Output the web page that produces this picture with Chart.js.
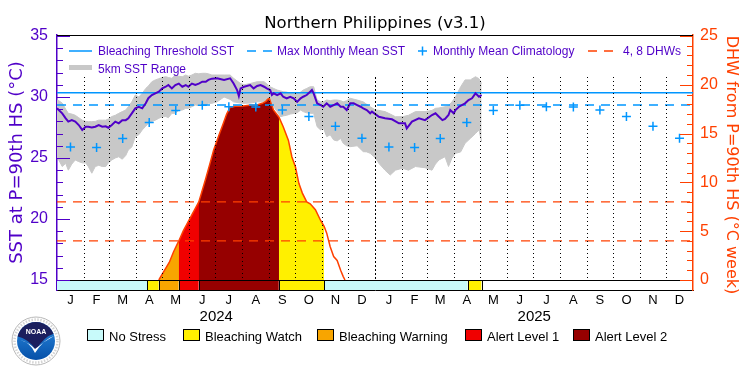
<!DOCTYPE html>
<html>
<head>
<meta charset="utf-8">
<script src="https://cdn.jsdelivr.net/npm/chart.js@4.4.1/dist/chart.umd.min.js"></script>
<style>
  body { margin: 0; background: #fff; }
  #chart { display: block; }
</style>
</head>
<body>
<canvas id="chart" width="750" height="375"></canvas>
<script>
// 월 라벨과 월 시작일 (2024-01-01 기준 일수)
const monthLetters = ['J','F','M','A','M','J','J','A','S','O','N','D','J','F','M','A','M','J','J','A','S','O','N','D'];
const monthStarts = [0,31,60,91,121,152,182,213,244,274,305,335,366,397,425,456,486,517,547,578,609,639,670,700,731];
const yearLabels = ['2024', '2025'];

// 월평균 기후값 (1월~12월)
const climatology = [25.9, 25.85, 26.6, 27.9, 28.9, 29.32, 29.2, 29.18, 28.93, 28.4, 27.6, 26.62];

// SST (P=90th HS)
const sstDays = [0,2,6,10,13,17,21,25,29,33, 36,40,44,48,52,56,59,63,67,71, 75,79,82,86,90,94,98,102,105,109,
  113,117,121,125,128,132,136,140,144,148, 151,155,159,163,167,171,174,178,184,192, 199,203,207,209,211,215,222,226,230,234,
  238,241,245,247,249,253,257,260,264,268, 272,276,280,283,287,291,293,295,299,303, 306,310,314,318,322,326,329,333,337,341,
  345,349,352,356,360,362,370,377,385,393, 400,402,408,416,423,431,435,439,443,446, 450,452,456,458,462,469,473,477,481,485, 488];
const sstValues = [29.07,28.93,28.66,28.25,27.98,28.1,27.98,27.7,27.3,27.56, 27.56,27.5,27.56,27.7,27.56,27.6,27.48,27.7,27.98,27.84,
  28.1,28.1,28.25,28.66,29.07,29.2,29.07,29.48,29.9,30.16, 30.3,30.43,30.7,30.84,30.98,30.7,30.98,31.1,30.84,30.98,
  30.84,31.1,30.98,31.1,31.25,31.25,31.4,31.5,31.53,31.4, 31.53,31.1,30.57,30.08,30.7,30.84,30.98,30.7,30.9,30.98,
  30.84,30.7,30.57,30.16,30.3,30.16,30.3,30.02,29.89,30.02, 29.89,29.6,29.89,30.02,30.16,30.43,30.57,30.3,29.48,29.34,
  29.2,29.48,29.2,29.34,29.48,29.2,29.2,28.93,29.48,29.48, 29.34,29.2,29.07,28.93,28.66,28.8,28.38,28.25,28.17,27.84,
  27.84,27.43,27.98,28.25,28.1,28.52,28.66,28.38,28.1,28.2, 28.52,28.93,28.66,28.93,29.2,29.48,29.75,29.89,30.3,30.02, 30.16];

// 5km SST 범위 (최대/최소)
const rangeDays = [0,2,6,10,13,17,21,25,29,33, 36,40,44,48,52,56,59,63,67,71, 75,79,82,86,90,94,98,102,105,109,
  113,117,121,125,128,132,136,140,144,148, 151,155,159,163,167,171,174,178,184,192, 199,203,211,215,222,230,238,245,249,253,
  257,260,264,268,276,280,283,287,291,295, 299,303,306,310,314,318,322,326,329,333, 337,345,352,356,360,366,370,377,383,389,
  397,404,412,423,431,435,439,446,450,454, 458,464,469,475,481,485,488];
const rangeMax = [29.75,29.7,29.5,29.0,28.66,28.6,28.5,28.3,28.1,28.0, 27.98,27.98,28.0,28.1,28.1,28.1,28.2,28.4,28.5,28.66,
  28.8,28.93,29.2,29.6,30.16,30.0,30.3,30.7,30.9,31.25, 31.4,31.5,31.6,31.66,31.6,31.53,31.8,31.7,31.66,31.8,
  31.7,31.8,31.94,31.9,31.94,31.94,31.9,31.8,31.8,31.8, 31.8,31.53,31.1,31.0,31.1,31.25,31.25,30.84,30.7,30.57,
  30.5,30.43,30.4,30.3,30.3,30.4,30.57,30.7,30.84,30.84, 29.75,29.6,29.6,29.75,29.7,29.75,29.75,29.7,29.6,29.7,
  29.89,29.75,29.6,29.4,29.2,28.93,28.9,28.8,28.6,28.38, 28.38,28.5,28.8,28.8,28.9,29.07,29.1,29.2,29.3,29.6,
  30.0,30.84,31.4,31.4,31.66,31.5,31.1];
const rangeMin = [25.1,24.84,24.3,24.56,24.0,24.5,24.84,24.7,24.6,24.6, 24.3,23.75,24.3,24.4,24.3,24.3,24.6,24.84,25.0,25.1,
  24.9,25.2,25.66,25.9,26.75,26.9,27.3,27.6,27.84,28.0, 28.1,28.25,28.38,28.4,28.3,28.66,28.66,28.9,28.93,29.07,
  29.07,29.2,29.34,29.3,29.34,29.3,29.48,29.48,29.6,30.0, 29.8,29.6,29.5,29.48,29.5,29.6,29.6,29.4,29.2,28.8,
  28.38,28.45,28.5,28.6,28.7,28.93,28.8,28.7,28.66,28.66, 27.56,27.3,27.5,26.75,26.9,26.48,26.4,26.6,26.2,26.0,
  25.93,26.0,25.52,25.5,25.38,25.0,24.56,24.0,23.6,24.0, 24.16,24.0,24.3,24.2,24.0,24.5,24.84,25.1,24.3,25.0,
  25.38,25.5,26.2,26.6,27.0,27.3,26.34];

// DHW (도씨-주)
const dhwDays = [117,123,129,134,140,145,151,157,163,167,171,176,180,186,191,195,199,205,212,221,229,236,240,242,244,246,249,
  255,260,266,270,274,278,282,287,291,297,303,307,310,314,318,322,326,329,331];
const dhwValues = [0,0.9,1.8,2.9,4.0,5.0,6.0,7.0,8.0,9.2,10.4,12.0,13.3,14.8,16.0,17.0,17.7,17.8,17.8,17.9,17.9,18.1,18.3,18.5,18.6,18.1,17.4,
  16.7,15.7,14.3,12.6,11.6,9.9,8.9,8.0,7.8,7.2,6.1,5.5,4.8,3.4,2.4,2.0,1.0,0.35,0];

// 경보 단계 구간
const alertStart = [0,104,117,140,163,255,307,472];
const alertEnd = [104,117,140,163,255,307,472,488];
const alertLevel = [0,1,2,3,4,1,0,1];
const alertNames = ['No Stress','Bleaching Watch','Bleaching Warning','Alert Level 1','Alert Level 2'];
const alertColors = ['#c8fafa','#fff000','#f8a500','#f00000','#960000'];

// 기준선
const bleachingThreshold = 30.35;
const maxMonthlyMean = 29.35;
const dhwLevels = [4, 8];

// 축 눈금
const sstTicks = [15,20,25,30,35];
const dhwTicks = [0,5,10,15,20,25];
const sstMin = 14.18, sstMax = 35.08;
const dhwMin = -1.025, dhwMax = 25.1;

const purple = '#5000c8';
const orange = '#ff4000';
const blue = '#0096ff';
const gray = '#c8c8c8';
const clear = 'rgba(0,0,0,0)';

const pts = (xs, ys) => xs.map((x, i) => ({ x: x, y: ys[i] }));

const monthMid = [];
for (let i = 0; i < monthLetters.length; i++) {
    monthMid.push((monthStarts[i] + monthStarts[i + 1]) / 2);
}
const climVals = monthMid.map((d, i) => climatology[i % 12]);

// 데이터셋 구성 (order 작을수록 위에 그려짐)
const datasets = [];
datasets.push({ data: pts(sstDays, sstValues), yAxisID: 'ySst', borderColor: purple, borderWidth: 2, order: 1 });
datasets.push({ data: pts(monthMid, climVals), yAxisID: 'ySst', showLine: false, pointStyle: 'cross', pointRadius: 4.5,
    pointBorderColor: blue, pointBorderWidth: 1.5, borderColor: blue, order: 2 });
datasets.push({ data: [{ x: 0, y: bleachingThreshold }, { x: 731, y: bleachingThreshold }], yAxisID: 'ySst',
    borderColor: blue, borderWidth: 1.5, order: 3 });
datasets.push({ data: [{ x: 0, y: maxMonthlyMean }, { x: 731, y: maxMonthlyMean }], yAxisID: 'ySst',
    borderColor: blue, borderWidth: 1.5, borderDash: [9, 7], order: 4 });
dhwLevels.forEach(v => {
    datasets.push({ data: [{ x: 0, y: v }, { x: 731, y: v }], yAxisID: 'yDhw',
        borderColor: orange, borderWidth: 1.2, borderDash: [9, 7], order: 5 });
});
datasets.push({ data: pts(dhwDays, dhwValues), yAxisID: 'yDhw', borderColor: orange, borderWidth: 1.5, order: 6 });

// DHW 면적: 경보 단계별 색 (다음 단계가 이어지면 한 점 더 그려 이음새를 덮음)
const dhwPoints = pts(dhwDays, dhwValues);
alertStart.forEach((s, i) => {
    if (alertLevel[i] === 0) return;
    let seg = dhwPoints.filter(p => p.x >= s && p.x <= alertEnd[i]);
    if (seg.length < 2) return;
    if (alertLevel[i + 1]) {
        const next = dhwPoints.find(p => p.x > alertEnd[i]);
        if (next) seg = seg.concat([next]);
    }
    datasets.push({ data: seg, yAxisID: 'yDhw', fill: 'origin', backgroundColor: alertColors[alertLevel[i]],
        borderColor: clear, borderWidth: 0, order: 7.5 - i * 0.01 });
});

// 하단 경보 띠
alertStart.forEach((s, i) => {
    datasets.push({ data: [{ x: s, y: 0 }, { x: alertEnd[i], y: 0 }], yAxisID: 'yDhw', fill: 'start',
        backgroundColor: alertColors[alertLevel[i]], borderColor: clear, borderWidth: 0, order: 8 });
});

// SST 범위
datasets.push({ data: pts(rangeDays, rangeMax), yAxisID: 'ySst', fill: '+1', backgroundColor: gray,
    borderColor: gray, borderWidth: 1, order: 9 });
datasets.push({ data: pts(rangeDays, rangeMin), yAxisID: 'ySst', borderColor: gray, borderWidth: 1, order: 10 });

function line(ctx, x1, y1, x2, y2) {
    ctx.beginPath();
    ctx.moveTo(x1, y1);
    ctx.lineTo(x2, y2);
    ctx.stroke();
}

function drawNoaaLogo(ctx, cx, cy) {
    ctx.save();
    ctx.beginPath();
    ctx.arc(cx, cy, 24, 0, Math.PI * 2);
    ctx.fillStyle = '#fff';
    ctx.fill();
    ctx.strokeStyle = '#b8b8b8';
    ctx.lineWidth = 1;
    ctx.stroke();
    ctx.beginPath();
    ctx.arc(cx, cy, 21.5, 0, Math.PI * 2);
    ctx.strokeStyle = '#d4d4d4';
    ctx.lineWidth = 2.5;
    ctx.setLineDash([1.5, 1.5]);
    ctx.stroke();
    ctx.setLineDash([]);

    ctx.save();
    ctx.beginPath();
    ctx.arc(cx, cy, 19, 0, Math.PI * 2);
    ctx.clip();
    const g = ctx.createLinearGradient(cx, cy - 19, cx, cy + 19);
    g.addColorStop(0, '#2a8ae0');
    g.addColorStop(1, '#0650a8');
    ctx.fillStyle = g;
    ctx.fillRect(cx - 20, cy - 20, 40, 40);
    ctx.beginPath();
    ctx.moveTo(cx - 20, cy - 20);
    ctx.lineTo(cx - 20, cy - 5);
    ctx.quadraticCurveTo(cx - 8, cy - 3, cx, cy + 9);
    ctx.quadraticCurveTo(cx + 8, cy - 5, cx + 20, cy - 8);
    ctx.lineTo(cx + 20, cy - 20);
    ctx.closePath();
    ctx.fillStyle = '#1b1f5e';
    ctx.fill();
    ctx.beginPath();
    ctx.moveTo(cx - 16, cy - 1);
    ctx.quadraticCurveTo(cx - 6, cy + 1, cx - 1, cy + 12);
    ctx.quadraticCurveTo(cx + 8, cy - 2, cx + 18, cy - 5);
    ctx.quadraticCurveTo(cx + 7, cy + 1, cx - 1, cy + 8);
    ctx.quadraticCurveTo(cx - 6, cy + 2, cx - 16, cy - 1);
    ctx.fillStyle = '#fff';
    ctx.fill();
    ctx.restore();

    ctx.fillStyle = '#fff';
    ctx.font = 'bold 7px "Liberation Sans"';
    ctx.textAlign = 'center';
    ctx.textBaseline = 'middle';
    ctx.fillText('NOAA', cx, cy - 9);
    ctx.restore();
}

// 제목, 범례, 눈금 등 추가 그리기
const decorPlugin = {
    id: 'decor',
    afterDraw(chart) {
        const ctx = chart.ctx;
        const area = chart.chartArea;
        const xs = chart.scales.x;
        const ys = chart.scales.ySst;
        const yd = chart.scales.yDhw;
        ctx.save();

        // 월 경계 점선
        ctx.strokeStyle = '#000';
        ctx.lineWidth = 1;
        const stripTop = Math.round(yd.getPixelForValue(0));
        for (let i = 1; i < monthStarts.length - 1; i++) {
            const x = Math.round(xs.getPixelForValue(monthStarts[i])) + 0.5;
            ctx.setLineDash(i === 12 ? [2, 2] : [1, 3]);
            line(ctx, x, 77, x, stripTop);
        }
        ctx.setLineDash([]);

        // 위 테두리와 경보 띠 테두리
        line(ctx, area.left, area.top + 0.5, area.right, area.top + 0.5);
        line(ctx, area.left, stripTop + 0.5, area.right, stripTop + 0.5);
        const bounds = alertStart.slice(1).concat([alertEnd[alertEnd.length - 1]]);
        bounds.forEach(b => {
            const x = Math.round(xs.getPixelForValue(b)) + 0.5;
            line(ctx, x, stripTop, x, area.bottom);
        });

        // 안쪽 눈금
        ctx.strokeStyle = purple;
        for (let v = Math.ceil(sstMin); v <= Math.floor(sstMax); v++) {
            const y = Math.round(ys.getPixelForValue(v)) + 0.5;
            line(ctx, area.left, y, area.left + (v % 5 === 0 ? 13 : 6), y);
        }
        ctx.strokeStyle = orange;
        for (let v = 0; v <= Math.floor(dhwMax); v++) {
            const y = Math.round(yd.getPixelForValue(v)) + 0.5;
            line(ctx, area.right - (v % 5 === 0 ? 13 : 6), y, area.right, y);
        }

        // 제목
        ctx.fillStyle = '#000';
        ctx.font = '16.5px "DejaVu Sans"';
        ctx.textAlign = 'center';
        ctx.textBaseline = 'alphabetic';
        ctx.fillText('Northern Philippines (v3.1)', (area.left + area.right) / 2, 28);

        // 축 제목
        ctx.save();
        ctx.translate(17, 162.5);
        ctx.rotate(-Math.PI / 2);
        ctx.fillStyle = purple;
        ctx.font = '18px "DejaVu Sans"';
        ctx.textBaseline = 'middle';
        ctx.fillText('SST at P=90th HS (°C)', 0, 0);
        ctx.restore();
        ctx.save();
        ctx.translate(731, 165);
        ctx.rotate(Math.PI / 2);
        ctx.fillStyle = orange;
        ctx.font = '16px "DejaVu Sans"';
        ctx.textBaseline = 'middle';
        ctx.fillText('DHW from P=90th HS (°C week)', 0, 0);
        ctx.restore();

        // 연도
        ctx.fillStyle = '#000';
        ctx.font = '15px "Liberation Sans"';
        yearLabels.forEach((label, i) => {
            const mid = (monthStarts[i * 12] + monthStarts[i * 12 + 12]) / 2;
            ctx.fillText(label, xs.getPixelForValue(mid), 321);
        });

        // 상단 범례
        ctx.textAlign = 'left';
        ctx.font = '12px "Liberation Sans"';
        ctx.lineWidth = 1.5;
        ctx.strokeStyle = blue;
        line(ctx, 69, 51, 92, 51);
        ctx.setLineDash([9, 7]);
        line(ctx, 247, 51, 275, 51);
        ctx.strokeStyle = orange;
        line(ctx, 588, 51, 614, 51);
        ctx.setLineDash([]);
        ctx.strokeStyle = blue;
        line(ctx, 418, 51, 427, 51);
        line(ctx, 422.5, 46.5, 422.5, 55.5);
        ctx.strokeStyle = gray;
        ctx.lineWidth = 5;
        line(ctx, 69, 67.5, 92, 67.5);
        ctx.fillStyle = purple;
        ctx.fillText('Bleaching Threshold SST', 98, 55);
        ctx.fillText('Max Monthly Mean SST', 277, 55);
        ctx.fillText('Monthly Mean Climatology', 433, 55);
        ctx.fillText('4, 8 DHWs', 623, 55);
        ctx.fillText('5km SST Range', 98, 72.5);

        // 하단 범례
        const boxX = [87, 183, 317, 465, 573];
        ctx.font = '13px "Liberation Sans"';
        ctx.lineWidth = 1;
        ctx.strokeStyle = '#000';
        alertNames.forEach((name, i) => {
            ctx.fillStyle = alertColors[i];
            ctx.fillRect(boxX[i] + 0.5, 329.5, 16, 11);
            ctx.strokeRect(boxX[i] + 0.5, 329.5, 16, 11);
            ctx.fillStyle = '#000';
            ctx.fillText(name, boxX[i] + 22, 341);
        });

        drawNoaaLogo(ctx, 36, 341);
        ctx.restore();
    }
};

new Chart(document.getElementById('chart'), {
    type: 'line',
    data: { datasets: datasets },
    options: {
        responsive: false,
        animation: false,
        events: [],
        layout: { padding: { top: 35, left: 0, right: 0, bottom: 0 } },
        elements: {
            point: { radius: 0 },
            line: { tension: 0 }
        },
        plugins: {
            legend: { display: false },
            tooltip: { enabled: false },
            title: { display: false }
        },
        scales: {
            x: {
                type: 'linear',
                min: 0,
                max: 731,
                grid: { display: false, drawTicks: false },
                border: { color: '#000', width: 1 },
                afterBuildTicks: s => { s.ticks = monthMid.map(v => ({ value: v })); },
                afterFit: s => { s.height = 85; },
                ticks: {
                    autoSkip: false,
                    maxRotation: 0,
                    padding: 3,
                    color: '#000',
                    font: { family: 'Liberation Sans', size: 13 },
                    callback: (v, i) => monthLetters[i]
                }
            },
            ySst: {
                type: 'linear',
                position: 'left',
                min: sstMin,
                max: sstMax,
                grid: { display: false, drawTicks: false },
                border: { color: purple, width: 1.5 },
                afterBuildTicks: s => { s.ticks = sstTicks.map(v => ({ value: v })); },
                afterFit: s => { s.width = 57; },
                ticks: {
                    padding: 9,
                    color: purple,
                    font: { family: 'Liberation Sans', size: 16 },
                    callback: v => String(v)
                }
            },
            yDhw: {
                type: 'linear',
                position: 'right',
                min: dhwMin,
                max: dhwMax,
                grid: { display: false, drawTicks: false },
                border: { color: orange, width: 1.5 },
                afterBuildTicks: s => { s.ticks = dhwTicks.map(v => ({ value: v })); },
                afterFit: s => { s.width = 57; },
                ticks: {
                    padding: 7,
                    color: orange,
                    font: { family: 'Liberation Sans', size: 16 },
                    callback: v => String(v)
                }
            }
        }
    },
    plugins: [decorPlugin]
});
</script>
</body>
</html>
